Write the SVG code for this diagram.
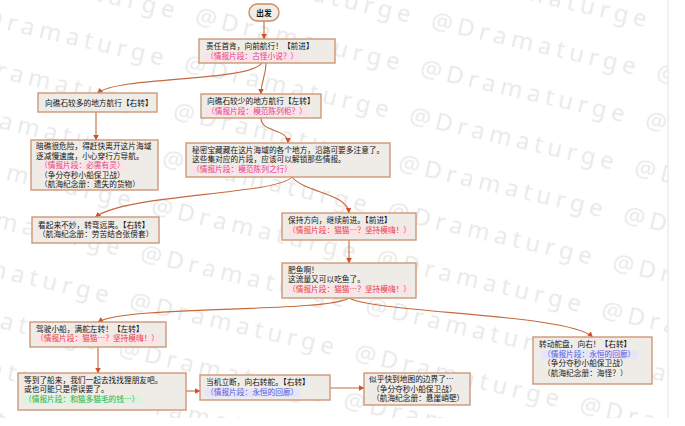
<svg xmlns="http://www.w3.org/2000/svg" width="685" height="426" viewBox="0 0 685 426">
<style>
.nb{fill:#efebe6;stroke:#cf9877;stroke-width:1.4}
.st{fill:#f1ede7;stroke:#c98a66;stroke-width:1.4}
text{font-family:"Noto Sans CJK SC","Noto Sans",sans-serif;font-size:7.7px;fill:#151515}
text.pk{fill:#e2457f}
text.rd{fill:#e5404f}
text.gn{fill:#2fae48}
text.bl{fill:#5a5ad6}
.hpk{fill:#fbe1ea}
.hrd{fill:#fde3e5}
.hgn{fill:#dcf3de}
.hbl{fill:#e4e4fa}
.e{fill:none;stroke:#c46a3c;stroke-width:1.1;marker-end:url(#ah)}
text.wm{font-family:"Noto Sans",sans-serif;font-size:24px;letter-spacing:5px;fill:#e9e9e9}
</style>
<defs>
<marker id="ah" viewBox="0 0 6 6" refX="5.5" refY="3" markerWidth="5.5" markerHeight="5.5" markerUnits="userSpaceOnUse" orient="auto">
<path d="M0,0 L6,3 L0,6 z" fill="#d4502a"/>
</marker>
<pattern id="wmp" patternUnits="userSpaceOnUse" x="-36.8" y="-2" width="231" height="48.7" patternTransform="rotate(13)">
<text class="wm" x="0" y="30">@Dramaturge</text>
</pattern>
</defs>
<rect x="0" y="0" width="685" height="426" fill="#ffffff"/>
<rect x="0" y="0" width="668" height="418" fill="url(#wmp)"/>
<line x1="668" y1="0" x2="668" y2="418" stroke="#e2e2e2" stroke-width="1"/>

<g id="connectors">
<path class="e" d="M264,21 L264,39"/>
<path class="e" d="M262,63 C248,82 120,76 97.5,93"/>
<path class="e" d="M266,63 C266,77 261,80 261,94"/>
<path class="e" d="M96,112 L96,140"/>
<path class="e" d="M261,118 C261,133 288,128 288,143"/>
<path class="e" d="M292,177 C276,195 125,194 95.5,217"/>
<path class="e" d="M292,177 C305,193 347,193 349,213"/>
<path class="e" d="M349,240 L349,263"/>
<path class="e" d="M349,298 C326,313 128,305 98,322"/>
<path class="e" d="M349,298 C376,313 570,314 592.5,337"/>
<path class="e" d="M98,347 L98,373"/>
<path class="e" d="M186,391 L200,391"/>
<path class="e" d="M330,388 L364,388"/>
</g>

<g id="n1">
<rect class="st" x="249" y="4" width="30" height="17" rx="8.5"/>
<text x="264" y="15.5" text-anchor="middle" font-weight="bold">出发</text>
</g>
<g id="n2">
<rect class="nb" x="199" y="39" width="136" height="24"/>
<text x="206" y="49">责任首肯，向前航行！【前进】</text>
<rect class="hpk" x="205" y="52.5" width="95" height="8.5"/>
<text class="pk" x="206" y="58.5">（情报片段：古怪小说？）</text>
</g>
<g id="n3">
<rect class="nb" x="38" y="93" width="119" height="19"/>
<text x="45" y="105.5">向礁石较多的地方航行【右转】</text>
</g>
<g id="n4">
<rect class="nb" x="201" y="94" width="120" height="24"/>
<text x="207" y="104">向礁石较少的地方航行【左转】</text>
<rect class="hpk" x="206" y="107.5" width="102" height="8.5"/>
<text class="pk" x="207" y="113.5">（情报片段：模范陈列柜？）</text>
</g>
<g id="n5">
<rect class="nb" x="31" y="140" width="127" height="50"/>
<text x="36" y="149">暗礁很危险，得赶快离开这片海域</text>
<text x="36" y="158.5">逐减慢速度，小心穿行方导航。</text>
<rect class="hpk" x="39" y="162" width="87" height="8.5"/>
<text class="pk" x="40" y="168">（情报片段：必需有灵）</text>
<text x="40" y="177.5">（争分夺秒小船保卫战）</text>
<text x="40" y="187">（航海纪念册：遗失的货物）</text>
</g>
<g id="n6">
<rect class="nb" x="186" y="143" width="204" height="34"/>
<text x="192" y="152.5">秘密宝藏藏在这片海域的各个地方，沿路可要多注意了。</text>
<text x="192" y="162">这些集对应的片段，应该可以解锁那些情报。</text>
<rect class="hpk" x="191" y="165.5" width="102" height="8.5"/>
<text class="pk" x="192" y="171.5">（情报片段：模范陈列之行）</text>
</g>
<g id="n7">
<rect class="nb" x="32" y="217" width="127" height="26"/>
<text x="38" y="227.5">看起来不妙，转弯远离。【右转】</text>
<text x="38" y="237">（航海纪念册：劳苦结合张傍套）</text>
</g>
<g id="n8">
<rect class="nb" x="282" y="213" width="134" height="27"/>
<text x="288" y="223">保持方向，继续前进。【前进】</text>
<rect class="hrd" x="287" y="227" width="125" height="8.5"/>
<text class="rd" x="288" y="233">（情报片段：猫猫…？坚持模嗨！）</text>
</g>
<g id="n9">
<rect class="nb" x="282" y="263" width="134" height="35"/>
<text x="288" y="272.5">肥鱼啊！</text>
<text x="288" y="282">这流量又可以吃鱼了。</text>
<rect class="hrd" x="287" y="285.5" width="125" height="8.5"/>
<text class="rd" x="288" y="291.5">（情报片段：猫猫…？坚持模嗨！）</text>
</g>
<g id="n10">
<rect class="nb" x="30" y="322" width="136" height="25"/>
<text x="36" y="331.5">驾驶小船，满舵左转！【左转】</text>
<rect class="hrd" x="35" y="335" width="125" height="8.5"/>
<text class="rd" x="36" y="341">（情报片段：猫猫…？坚持模嗨！）</text>
</g>
<g id="n11">
<rect class="nb" x="18" y="373" width="168" height="37"/>
<text x="24" y="382.5">等到了船来，我们一起去找找狸朋友吧。</text>
<text x="24" y="392">或也可能只是停误要了。</text>
<rect class="hgn" x="23" y="395.5" width="118" height="8.5"/>
<text class="gn" x="24" y="401.5">（情报片段：和猫多猫毛的钱…）</text>
</g>
<g id="n12">
<rect class="nb" x="200" y="375" width="130" height="25"/>
<text x="206" y="385">当机立断，向右转舵。【右转】</text>
<rect class="hbl" x="205" y="388.5" width="95" height="8.5"/>
<text class="bl" x="206" y="394.5">（情报片段：永恒的回廊）</text>
</g>
<g id="n13">
<rect class="nb" x="364" y="373" width="106" height="32"/>
<text x="369" y="382">似乎快到地图的边界了…</text>
<text x="372" y="391.5">（争分夺秒小船保卫战）</text>
<text x="372" y="401">（航海纪念册：悬崖峭壁）</text>
</g>
<g id="n14">
<rect class="nb" x="533" y="337" width="119" height="47"/>
<text x="539" y="347">转动舵盘，向右！【右转】</text>
<rect class="hbl" x="542" y="350.5" width="95" height="8.5"/>
<text class="bl" x="543" y="356.5">（情报片段：永恒的回廊）</text>
<text x="543" y="366">（争分夺秒小船保卫战）</text>
<text x="543" y="375.5">（航海纪念册：海怪？）</text>
</g>
</svg>
